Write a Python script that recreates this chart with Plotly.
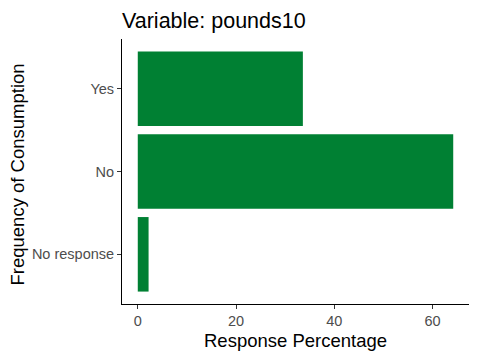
import plotly.graph_objects as go

categories = ["No response", "No", "Yes"]
values = [2.2, 64.2, 33.6]
x_ticks = [0, 20, 40, 60]

FONT = "Liberation Sans, Arial, sans-serif"
BAR_COLOR = "#008033"

fig = go.Figure(
    go.Bar(
        x=values,
        y=categories,
        orientation="h",
        width=0.9,
        marker=dict(color=BAR_COLOR, line=dict(width=0)),
    )
)

# The page body adds an 8px offset, so figure coords = page coords - 8
fig.update_layout(
    template="none",
    width=480,
    height=360,
    margin=dict(l=114, r=19, t=31, b=64, autoexpand=False),
    paper_bgcolor="white",
    plot_bgcolor="white",
    showlegend=False,
    font=dict(family=FONT),
    title=dict(
        text="Variable: pounds10",
        x=0, xref="paper", xanchor="left",
        y=1 - 12 / 360, yref="container", yanchor="middle",
        font=dict(size=21.5, color="black", family=FONT),
    ),
    xaxis=dict(
        range=[-3.21, 67.41],
        tickvals=x_ticks,
        ticktext=[str(t) for t in x_ticks],
        showgrid=False,
        zeroline=False,
        showline=True,
        linecolor="black",
        linewidth=1,
        ticks="outside",
        ticklen=4,
        tickcolor="#333333",
        tickfont=dict(size=14.5, color="#4D4D4D", family=FONT),
        automargin=False,
        fixedrange=True,
    ),
    yaxis=dict(
        type="category",
        categoryorder="array",
        categoryarray=categories,
        range=[-0.6, 2.6],
        showgrid=False,
        zeroline=False,
        showline=True,
        linecolor="black",
        linewidth=1,
        ticks="outside",
        ticklen=4,
        tickcolor="#333333",
        tickfont=dict(size=14.5, color="#4D4D4D", family=FONT),
        automargin=False,
        fixedrange=True,
    ),
    annotations=[
        dict(
            text="Response Percentage",
            x=0.5, xref="paper", xanchor="center",
            y=0, yref="paper", yanchor="middle", yshift=-36,
            showarrow=False,
            font=dict(size=18.5, color="black", family=FONT),
        ),
        dict(
            text="Frequency of Consumption",
            x=0, xref="paper", xshift=-105, xanchor="center",
            y=0.5, yref="paper", yanchor="middle", yshift=-3,
            textangle=-90, showarrow=False,
            font=dict(size=18.5, color="black", family=FONT),
        ),
    ],
)

fig.write_html("out.html")
